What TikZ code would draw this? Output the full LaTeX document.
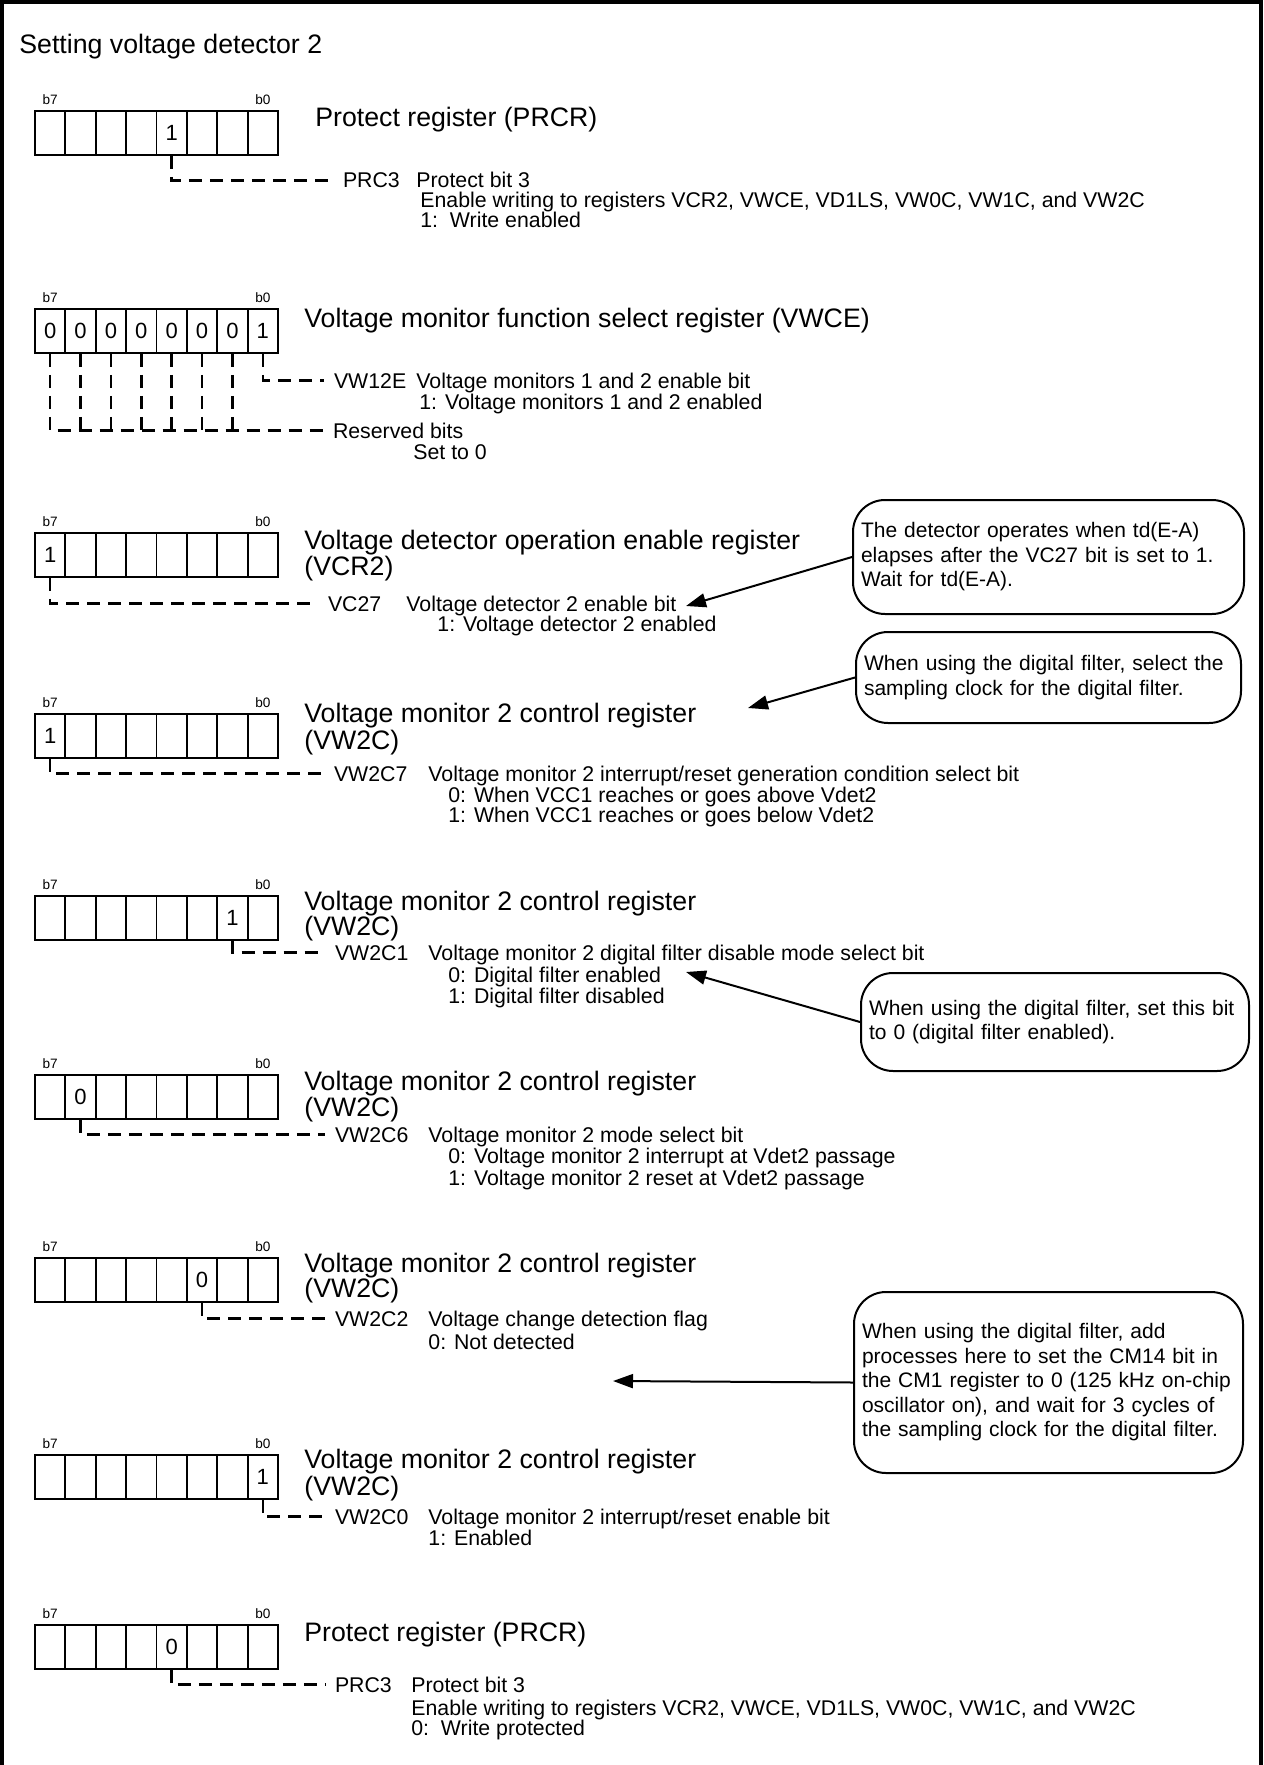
\documentclass[tikz,border=0pt]{standalone}
\usepackage{fontspec}
\setmainfont{Liberation Sans}
\usetikzlibrary{positioning,arrows.meta}

\tikzset{
  vdsec/.style={x=0.5pt,y=-0.5pt},
  outerframe/.style={line width=2pt},
  bitcell/.style={draw,line width=0.9pt,minimum width=15.19pt,minimum height=22pt,inner sep=0pt,font=\fontsize{11}{13}\selectfont},
  bitlbl/.style={inner sep=0pt,font=\fontsize{6.8}{8}\selectfont},
  regtitle/.style={anchor=base west,inner sep=0pt,font=\fontsize{13.35}{15}\selectfont},
  bitname/.style={anchor=base west,inner sep=0pt,outer sep=5pt,font=\fontsize{10.65}{12}\selectfont},
  desc/.style={anchor=base west,inner sep=0pt,font=\fontsize{10.65}{12}\selectfont},
  leader/.style={line width=1.3pt,dash pattern=on 6.5pt off 4pt},
  bubble/.style={draw,line width=1pt,rounded corners=16pt,anchor=north west,align=left,inner xsep=4pt,font=\fontsize{10.5}{12.25}\selectfont},
  note/.style={line width=1pt,-{Triangle[length=10pt,width=7pt]}},
}

% eight bit cells b7..b0, x = empty cell
\newcommand{\bitreg}[3]{%
  \foreach \v [count=\i from 0] in {#3}{
    \pgfmathtruncatemacro\bitno{7-\i}
    \node[bitcell] (#1-b\bitno) at ({35+30.375*(\i+0.5)},{#2+22}) {\if x\v\else\v\fi};
  }
  \node[bitlbl,above=2.5pt of #1-b7] (#1-hi) {b7};
  \node[bitlbl,above=2.5pt of #1-b0] (#1-lo) {b0};
}

\begin{document}
\begin{tikzpicture}[vdsec]
    \useasboundingbox (0,0) rectangle (1263,1765);
    \draw[outerframe] (2,1765) -- (2,2) -- (1261,2) -- (1261,1765);
    \node[regtitle] (title) at (19,54) {Setting voltage detector 2};

    % PRCR: write enable
    \bitreg{prot1}{111}{x,x,x,x,1,x,x,x}
    \node[regtitle] (prot1-name) at (315,127) {Protect register (PRCR)};
    \node[bitname] (prot1-bit) at (333,188) {PRC3};
    \node[desc] (prot1-d1) at (416,188) {Protect bit 3};
    \node[desc] (prot1-d2) at (420,208) {Enable writing to registers VCR2, VWCE, VD1LS, VW0C, VW1C, and VW2C};
    \node[desc] (prot1-d3) at (420,228) {1:\ \ Write enabled};
    \draw[leader] (prot1-b3.south) |- (prot1-bit.west);

    % VWCE
    \bitreg{vwce}{309}{0,0,0,0,0,0,0,1}
    \node[regtitle] (vwce-name) at (304,328) {Voltage monitor function select register (VWCE)};
    \node[bitname] (vwce-bit) at (324,388) {VW12E};
    \node[desc] (vwce-d1) at (416,388) {Voltage monitors 1 and 2 enable bit};
    \node[desc] (vwce-d2) at (419,409) {1: Voltage monitors 1 and 2 enabled};
    \node[bitname] (vwce-rsv) at (323,438) {Reserved bits};
    \node[desc] (vwce-d3) at (413,459) {Set to 0};
    \draw[leader] (vwce-b0.south) |- (vwce-bit.west);
    \draw[leader] (vwce-b7.south) |- (vwce-rsv.west);
    \foreach \b in {6,...,1}
      \draw[leader] (vwce-b\b.south) -- (vwce-b\b.south |- vwce-rsv.west);

    % VCR2
    \bitreg{vcr2}{533}{1,x,x,x,x,x,x,x}
    \node[regtitle] (vcr2-name) at (304,549) {Voltage detector operation enable register};
    \node[regtitle] (vcr2-name2) at (304,575) {(VCR2)};
    \node[bitname] (vcr2-bit) at (318,611) {VC27};
    \node[desc] (vcr2-d1) at (406,611) {Voltage detector 2 enable bit};
    \node[desc] (vcr2-d2) at (437,631) {1: Voltage detector 2 enabled};
    \draw[leader] (vcr2-b7.south) |- (vcr2-bit.west);

    % VW2C7
    \bitreg{vwc7}{714}{1,x,x,x,x,x,x,x}
    \node[regtitle] (vwc7-name) at (304,722) {Voltage monitor 2 control register};
    \node[regtitle] (vwc7-name2) at (304,749) {(VW2C)};
    \node[bitname] (vwc7-bit) at (324,781) {VW2C7};
    \node[desc] (vwc7-d1) at (428,781) {Voltage monitor 2 interrupt/reset generation condition select bit};
    \node[desc] (vwc7-d2) at (448,802) {0: When VCC1 reaches or goes above Vdet2};
    \node[desc] (vwc7-d3) at (448,822) {1: When VCC1 reaches or goes below Vdet2};
    \draw[leader] (vwc7-b7.south) |- (vwc7-bit.west);

    % VW2C1
    \bitreg{vwc1}{896}{x,x,x,x,x,x,1,x}
    \node[regtitle] (vwc1-name) at (304,910) {Voltage monitor 2 control register};
    \node[regtitle] (vwc1-name2) at (304,935) {(VW2C)};
    \node[bitname] (vwc1-bit) at (325,960) {VW2C1};
    \node[desc] (vwc1-d1) at (428,960) {Voltage monitor 2 digital filter disable mode select bit};
    \node[desc] (vwc1-d2) at (448,982) {0: Digital filter enabled};
    \node[desc] (vwc1-d3) at (448,1003) {1: Digital filter disabled};
    \draw[leader] (vwc1-b1.south) |- (vwc1-bit.west);

    % VW2C6
    \bitreg{vwc6}{1075}{x,0,x,x,x,x,x,x}
    \node[regtitle] (vwc6-name) at (304,1090) {Voltage monitor 2 control register};
    \node[regtitle] (vwc6-name2) at (304,1116) {(VW2C)};
    \node[bitname] (vwc6-bit) at (325,1142) {VW2C6};
    \node[desc] (vwc6-d1) at (428,1142) {Voltage monitor 2 mode select bit};
    \node[desc] (vwc6-d2) at (448,1163) {0: Voltage monitor 2 interrupt at Vdet2 passage};
    \node[desc] (vwc6-d3) at (448,1185) {1: Voltage monitor 2 reset at Vdet2 passage};
    \draw[leader] (vwc6-b6.south) |- (vwc6-bit.west);

    % VW2C2
    \bitreg{vwc2}{1258}{x,x,x,x,x,0,x,x}
    \node[regtitle] (vwc2-name) at (304,1272) {Voltage monitor 2 control register};
    \node[regtitle] (vwc2-name2) at (304,1297) {(VW2C)};
    \node[bitname] (vwc2-bit) at (325,1326) {VW2C2};
    \node[desc] (vwc2-d1) at (428,1326) {Voltage change detection flag};
    \node[desc] (vwc2-d2) at (428,1349) {0: Not detected};
    \draw[leader] (vwc2-b2.south) |- (vwc2-bit.west);

    % VW2C0
    \bitreg{vwc0}{1455}{x,x,x,x,x,x,x,1}
    \node[regtitle] (vwc0-name) at (304,1468) {Voltage monitor 2 control register};
    \node[regtitle] (vwc0-name2) at (304,1495) {(VW2C)};
    \node[bitname] (vwc0-bit) at (325,1524) {VW2C0};
    \node[desc] (vwc0-d1) at (428,1524) {Voltage monitor 2 interrupt/reset enable bit};
    \node[desc] (vwc0-d2) at (428,1545) {1: Enabled};
    \draw[leader] (vwc0-b0.south) |- (vwc0-bit.west);

    % PRCR: write protect
    \bitreg{prot0}{1625}{x,x,x,x,0,x,x,x}
    \node[regtitle] (prot0-name) at (304,1641) {Protect register (PRCR)};
    \node[bitname] (prot0-bit) at (325,1692) {PRC3};
    \node[desc] (prot0-d1) at (411,1692) {Protect bit 3};
    \node[desc] (prot0-d2) at (411,1715) {Enable writing to registers VCR2, VWCE, VD1LS, VW0C, VW1C, and VW2C};
    \node[desc] (prot0-d3) at (411,1735) {0:\ \ Write protected};
    \draw[leader] (prot0-b3.south) |- (prot0-bit.west);

    % notes
    \node[bubble,text width=187.5pt,minimum height=57pt] (bub1) at (852,499)
      {The detector operates when td(E-A)\\elapses after the VC27 bit is set to 1.\\Wait for td(E-A).};
    \node[bubble,text width=184.5pt,minimum height=45.5pt] (bub2) at (855,631)
      {When using the digital filter, select the\\sampling clock for the digital filter.};
    \node[bubble,text width=186pt,minimum height=49pt] (bub3) at (860,972)
      {When using the digital filter, set this bit\\to 0 (digital filter enabled).};
    \node[bubble,text width=186.5pt,minimum height=90.5pt] (bub4) at (853,1291)
      {When using the digital filter, add\\processes here to set the CM14 bit in\\the CM1 register to 0 (125 kHz on-chip\\oscillator on), and wait for 3 cycles of\\the sampling clock for the digital filter.};
    \coordinate (tip1) at (686,606);
    \coordinate (tip2) at (748,708);
    \coordinate (tip3) at (686,972);
    \coordinate (tip4) at (613,1381);
    \draw[note] (bub1.west) -- (tip1);
    \draw[note] (bub2.west) -- (tip2);
    \draw[note] (bub3.west) -- (tip3);
    \draw[note] (bub4.west) -- (tip4);
\end{tikzpicture}
\end{document}
